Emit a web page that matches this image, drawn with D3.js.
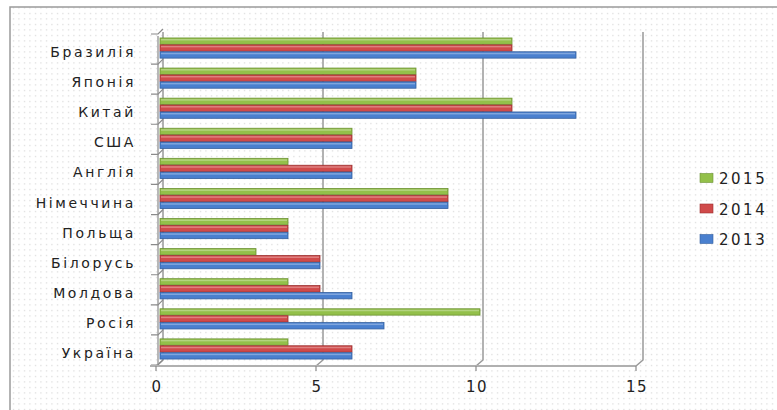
<!DOCTYPE html>
<html>
<head>
<meta charset="utf-8">
<script src="https://cdn.jsdelivr.net/npm/d3@7"></script>
<style>
  body { margin: 0; background: #fff; }
  svg { display: block; font-family: "DejaVu Sans", sans-serif; }
</style>
</head>
<body>
<svg width="777" height="410"></svg>
<script>
// countries, bottom to top as in the source sheet
var countries = ["Україна", "Росія", "Молдова", "Білорусь", "Польща", "Німеччина",
                 "Англія", "США", "Китай", "Японія", "Бразилія"];
var years = ["2015", "2014", "2013"];
var v2015 = [4, 10, 4, 3, 4, 9, 4, 6, 11, 8, 11];
var v2014 = [6, 4, 5, 5, 4, 9, 6, 6, 11, 8, 11];
var v2013 = [6, 7, 6, 5, 4, 9, 6, 6, 13, 8, 13];
var xTicks = [0, 5, 10, 15];
var colors = { "2015": "#93c04a", "2014": "#d04a4a", "2013": "#4a80cf" };
var strokes = { "2015": "#6c9233", "2014": "#9b3030", "2013": "#345f9e" };

var rows = countries.map(function(c, i) {
    return { country: c, "2015": v2015[i], "2014": v2014[i], "2013": v2013[i] };
});

var svg = d3.select("svg");

// dotted background
var defs = svg.append("defs");
defs.append("pattern")
    .attr("id", "dots")
    .attr("width", 5.5).attr("height", 5.5)
    .attr("patternUnits", "userSpaceOnUse")
    .append("rect")
    .attr("x", 2).attr("y", 2).attr("width", 1).attr("height", 1)
    .attr("fill", "#c4c4c4");

svg.append("rect").attr("width", 777).attr("height", 410).attr("fill", "#fff");
svg.append("rect")
    .attr("x", 10).attr("y", 7).attr("width", 780).attr("height", 420)
    .attr("fill", "url(#dots)")
    .attr("stroke", "#9a9a9a").attr("stroke-width", 1.5);

var x = d3.scaleLinear().domain([0, 15]).range([160, 640]);
var y = d3.scaleBand()
    .domain(countries.slice().reverse())
    .range([33, 364])
    .paddingInner(0.33)
    .paddingOuter(0.165);
var yy = d3.scaleBand().domain(years).range([0, y.bandwidth()]).paddingInner(0.08);

var dx = 3, depth = 6;
var bottom = 366;

// back gridlines with the 3d floor step
var grid = svg.append("g");
xTicks.forEach(function(t) {
    grid.append("path")
        .attr("d", "M" + (x(t) + dx) + ",32 L" + (x(t) + dx) + "," + (bottom - depth) +
              " L" + (x(t) - 4) + "," + bottom)
        .attr("fill", "none")
        .attr("stroke", "#999")
        .attr("stroke-width", 1.5);
});

// left wall and category ticks
svg.append("line")
    .attr("x1", 158).attr("x2", 158).attr("y1", 36).attr("y2", bottom)
    .attr("stroke", "#a0a0a0").attr("stroke-width", 1.5);
var bounds = y.domain().map(function(d) { return y(d) - y.step() * y.paddingInner() / 2; });
bounds.push(364);
bounds.forEach(function(b) {
    svg.append("path")
        .attr("d", "M151," + (b + 1) + " L158," + (b + 1) + " L" + (158 + dx + 2) + "," + (b - 4))
        .attr("fill", "none").attr("stroke", "#8a8a8a").attr("stroke-width", 1.2);
});

// bars
var groups = svg.append("g").selectAll("g")
    .data(rows)
    .enter().append("g")
    .attr("transform", function(d) { return "translate(0," + y(d.country) + ")"; });

years.forEach(function(yr) {
    groups.append("rect")
        .attr("x", x(0))
        .attr("y", yy(yr))
        .attr("width", function(d) { return x(d[yr]) - x(0); })
        .attr("height", yy.bandwidth())
        .attr("fill", colors[yr])
        .attr("stroke", strokes[yr])
        .attr("stroke-width", 0.8);
    groups.append("rect")
        .attr("x", x(0) + 1)
        .attr("y", yy(yr) + 1)
        .attr("width", function(d) { return Math.max(0, x(d[yr]) - x(0) - 2); })
        .attr("height", 1.5)
        .attr("fill", "#fff")
        .attr("opacity", 0.3);
});

// front floor edge
svg.append("line")
    .attr("x1", 150).attr("x2", 636).attr("y1", bottom).attr("y2", bottom)
    .attr("stroke", "#b0b0b0").attr("stroke-width", 2);
xTicks.forEach(function(t) {
    svg.append("line")
        .attr("x1", x(t) - 4).attr("x2", x(t) - 4)
        .attr("y1", bottom).attr("y2", bottom + 5)
        .attr("stroke", "#8a8a8a").attr("stroke-width", 1.2);
});

// x tick labels
svg.append("g").selectAll("text")
    .data(xTicks)
    .enter().append("text")
    .attr("x", function(d) { return x(d) - 3; })
    .attr("y", 392)
    .attr("text-anchor", "middle")
    .attr("font-size", 15)
    .attr("letter-spacing", 1.5)
    .attr("fill", "#222")
    .text(function(d) { return d; });

// category labels
svg.append("g").selectAll("text")
    .data(countries)
    .enter().append("text")
    .attr("x", 136)
    .attr("y", function(d) { return y(d) + y.bandwidth() / 2 + 9; })
    .attr("text-anchor", "end")
    .attr("font-size", 14)
    .attr("letter-spacing", 2.6)
    .attr("fill", "#222")
    .text(function(d) { return d; });

// legend
var legend = svg.append("g").selectAll("g")
    .data(years)
    .enter().append("g")
    .attr("transform", function(d, i) { return "translate(700," + (178 + i * 30.5) + ")"; });
legend.append("rect")
    .attr("x", 0).attr("y", -4.5).attr("width", 13).attr("height", 9)
    .attr("fill", function(d) { return colors[d]; })
    .attr("stroke", function(d) { return strokes[d]; })
    .attr("stroke-width", 0.6);
legend.append("text")
    .attr("x", 19).attr("y", 6)
    .attr("font-size", 15)
    .attr("letter-spacing", 2.5)
    .attr("fill", "#222")
    .text(function(d) { return d; });
</script>
</body>
</html>
